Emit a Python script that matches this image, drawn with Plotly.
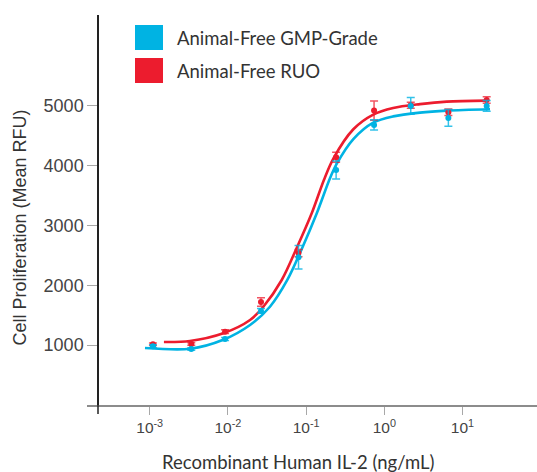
import plotly.graph_objects as go

# ---- data ----
dose = [0.0011, 0.0034, 0.0092, 0.0265, 0.080, 0.242, 0.74, 2.18, 6.6, 20.4]
gmp_mean = [981, 936, 1104, 1572, 2470, 3930, 4682, 5000, 4800, 5000]
gmp_err = [25, 20, 25, 40, 195, 150, 85, 140, 140, 90]
ruo_mean = [1015, 1020, 1226, 1722, 2540, 4142, 4922, 5010, 4894, 5100]
ruo_err = [20, 20, 30, 70, 60, 85, 160, 50, 55, 55]

gmp_fit_x = [0.00087, 0.00331, 0.00871, 0.0192, 0.0345, 0.0575, 0.0906, 0.137,
             0.202, 0.246, 0.402, 0.723, 1.30, 2.86, 6.28, 22.5]
gmp_fit_y = [953, 940, 1090, 1338, 1643, 2090, 2647, 3205,
             3790, 4030, 4445, 4720, 4825, 4888, 4922, 4945]
ruo_fit_x = [0.00152, 0.00327, 0.00873, 0.0192, 0.0284, 0.0488, 0.0771, 0.118,
             0.169, 0.223, 0.402, 0.723, 1.30, 2.86, 6.28, 20.6]
ruo_fit_y = [1054, 1070, 1199, 1421, 1643, 2090, 2647, 3205,
             3763, 4120, 4610, 4855, 4965, 5030, 5072, 5089]

series_names = ["Animal-Free GMP-Grade", "Animal-Free RUO"]
tick_vals = [0.001, 0.01, 0.1, 1, 10]
tick_text = ["10<sup>-3</sup>", "10<sup>-2</sup>", "10<sup>-1</sup>", "10<sup>0</sup>", "10<sup>1</sup>"]
y_ticks = [1000, 2000, 3000, 4000, 5000]
x_title = "Recombinant Human IL-2 (ng/mL)"
y_title = "Cell Proliferation (Mean RFU)"

BLUE = "#00B3E3"
RED = "#EC1C2E"
TEXT = "#333333"
AXIS_GRAY = "#8c8c8c"

fig = go.Figure()

# fitted curves
fig.add_trace(go.Scatter(x=ruo_fit_x, y=ruo_fit_y, mode="lines",
                         line=dict(color=RED, width=2.6, shape="spline", smoothing=0.9),
                         showlegend=False, hoverinfo="skip"))
fig.add_trace(go.Scatter(x=gmp_fit_x, y=gmp_fit_y, mode="lines",
                         line=dict(color=BLUE, width=2.6, shape="spline", smoothing=0.9),
                         showlegend=False, hoverinfo="skip"))

# data points with error bars
fig.add_trace(go.Scatter(x=dose, y=ruo_mean, mode="markers", name=series_names[1],
                         marker=dict(color=RED, size=6),
                         error_y=dict(type="data", array=ruo_err, color="rgba(236,28,46,0.75)",
                                      thickness=1.5, width=4),
                         showlegend=False))
fig.add_trace(go.Scatter(x=dose, y=gmp_mean, mode="markers", name=series_names[0],
                         marker=dict(color=BLUE, size=6),
                         error_y=dict(type="data", array=gmp_err, color="rgba(0,179,227,0.8)",
                                      thickness=1.5, width=4),
                         showlegend=False))

W, H = 537, 472
L, R, T, B = 87, 0, 15, 67
pw = W - L - R
ph = H - T - B
yaxis_px = 98
ypos = (yaxis_px - L) / pw


def px_x(p):
    return (p - L) / pw


def px_y(p):
    return 1 - (p - T) / ph


shapes = [
    # extension of the y axis line below the x axis
    dict(type="line", xref="paper", yref="paper", x0=ypos, x1=ypos,
         y0=-9 / ph, y1=0, line=dict(color="#222222", width=1.5)),
]
annotations = [
    dict(xref="paper", yref="paper", x=px_x(298), y=px_y(462), text=x_title,
         showarrow=False, xanchor="center", yanchor="middle",
         font=dict(family="Lato", size=18.5, color=TEXT)),
    dict(xref="paper", yref="paper", x=px_x(20), y=px_y(227.5), text=y_title,
         showarrow=False, xanchor="center", yanchor="middle", textangle=-90,
         font=dict(family="Liberation Sans", size=18, color=TEXT)),
]
# legend drawn as squares + text
legend_colors = [BLUE, RED]
legend_tops = [25, 58]
for name, col, top in zip(series_names, legend_colors, legend_tops):
    x0 = px_x(135)
    x1 = px_x(163)
    y1 = px_y(top)
    y0 = px_y(top + 25)
    shapes.append(dict(type="rect", xref="paper", yref="paper", x0=x0, x1=x1, y0=y0, y1=y1,
                       fillcolor=col, line=dict(width=0)))
    annotations.append(dict(xref="paper", yref="paper", x=px_x(175), y=(y0 + y1) / 2,
                            text=name, showarrow=False, xanchor="left", yanchor="middle",
                            font=dict(family="Lato", size=18.5, color=TEXT)))

fig.update_layout(
    width=W, height=H,
    margin=dict(l=L, r=R, t=T, b=B),
    paper_bgcolor="white", plot_bgcolor="white",
    shapes=shapes, annotations=annotations,
    showlegend=False,
    xaxis=dict(type="log", range=[-3.802, 1.953], domain=[0, 1],
               tickvals=tick_vals, ticktext=tick_text,
               ticks="outside", ticklen=8, tickwidth=1.2, tickcolor="#a8a8a8",
               showline=True, linecolor=AXIS_GRAY, linewidth=1.5,
               showgrid=False, zeroline=False,
               tickfont=dict(family="Liberation Sans", size=15.5, color="#444444")),
    yaxis=dict(range=[0, 6520], anchor="free", position=ypos,
               tickvals=y_ticks,
               ticks="outside", ticklen=10, tickwidth=1.2, tickcolor="#a8a8a8",
               showline=True, linecolor="#222222", linewidth=1.5,
               showgrid=False, zeroline=False,
               tickfont=dict(family="Liberation Sans", size=18, color="#444444")),
)

fig.write_html("out.html")
